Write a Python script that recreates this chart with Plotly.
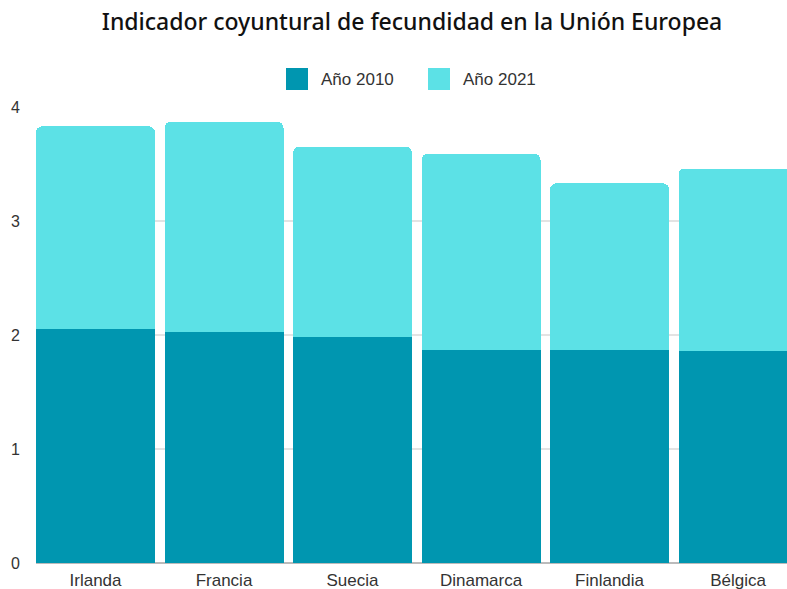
import plotly.graph_objects as go

paises = ["Irlanda", "Francia", "Suecia", "Dinamarca", "Finlandia", "Bélgica"]
anio_2010 = [2.05, 2.03, 1.98, 1.87, 1.87, 1.86]
anio_2021 = [1.78, 1.84, 1.67, 1.72, 1.46, 1.60]
series = ["Año 2010", "Año 2021"]
y_ticks = [0, 1, 2, 3, 4]

c_dark = "#0096B0"
c_light = "#5CE1E6"

W, H = 787, 589
L, R, T, B = 36, 0, 107, 26
PW, PH = W - L - R, H - T - B


def px(x):
    return (x - L) / PW


def py(y):
    return (H - B - y) / PH


fig = go.Figure()
fig.add_trace(go.Bar(x=paises, y=anio_2010, name=series[0], marker_color=c_dark,
                     marker_line_width=0, showlegend=False))
fig.add_trace(go.Bar(x=paises, y=anio_2021, name=series[1], marker_color=c_light,
                     marker_line_width=0, showlegend=False))

# custom legend
shapes = []
annotations = []
for name, col, x0 in zip(series, [c_dark, c_light], [286, 428]):
    shapes.append(dict(type="rect", xref="paper", yref="paper",
                       x0=px(x0), x1=px(x0 + 22), y0=py(90), y1=py(68),
                       fillcolor=col, line=dict(width=0)))
    annotations.append(dict(text=name, xref="paper", yref="paper", x=px(x0 + 33), y=py(79),
                            xanchor="left", yanchor="middle", showarrow=False,
                            font=dict(family="Liberation Sans", size=17, color="#333333")))

gap = 0.074
fig.update_layout(
    width=W, height=H,
    barmode="stack", bargap=gap, barcornerradius=6,
    paper_bgcolor="white", plot_bgcolor="white",
    margin=dict(l=L, r=R, t=T, b=B),
    showlegend=False,
    shapes=shapes, annotations=annotations,
    title=dict(text="Indicador coyuntural de fecundidad en la Unión Europea",
               x=412 / W, xanchor="center", xref="container", y=1 - 22 / H, yanchor="middle",
               font=dict(family="Noto Sans", size=23, color="#111111", weight=500)),
    xaxis=dict(range=[-(1 - gap) / 2, 5.381], showgrid=False, ticks="",
               ticklabelstandoff=5,
               tickfont=dict(family="Liberation Sans", size=17, color="#333333"),
               showline=False),
    yaxis=dict(range=[0, 4], tickvals=y_ticks, showgrid=True, gridcolor="#E3E3E3",
               gridwidth=1.5, zeroline=True, zerolinecolor="#BBBBBB", zerolinewidth=1.5,
               ticks="", ticklabelstandoff=15,
               tickfont=dict(family="Liberation Sans", size=16, color="#333333")),
)

fig.write_html("out.html", config={"displayModeBar": False},
               post_script="document.body.style.margin='0';document.body.style.overflow='hidden';")
